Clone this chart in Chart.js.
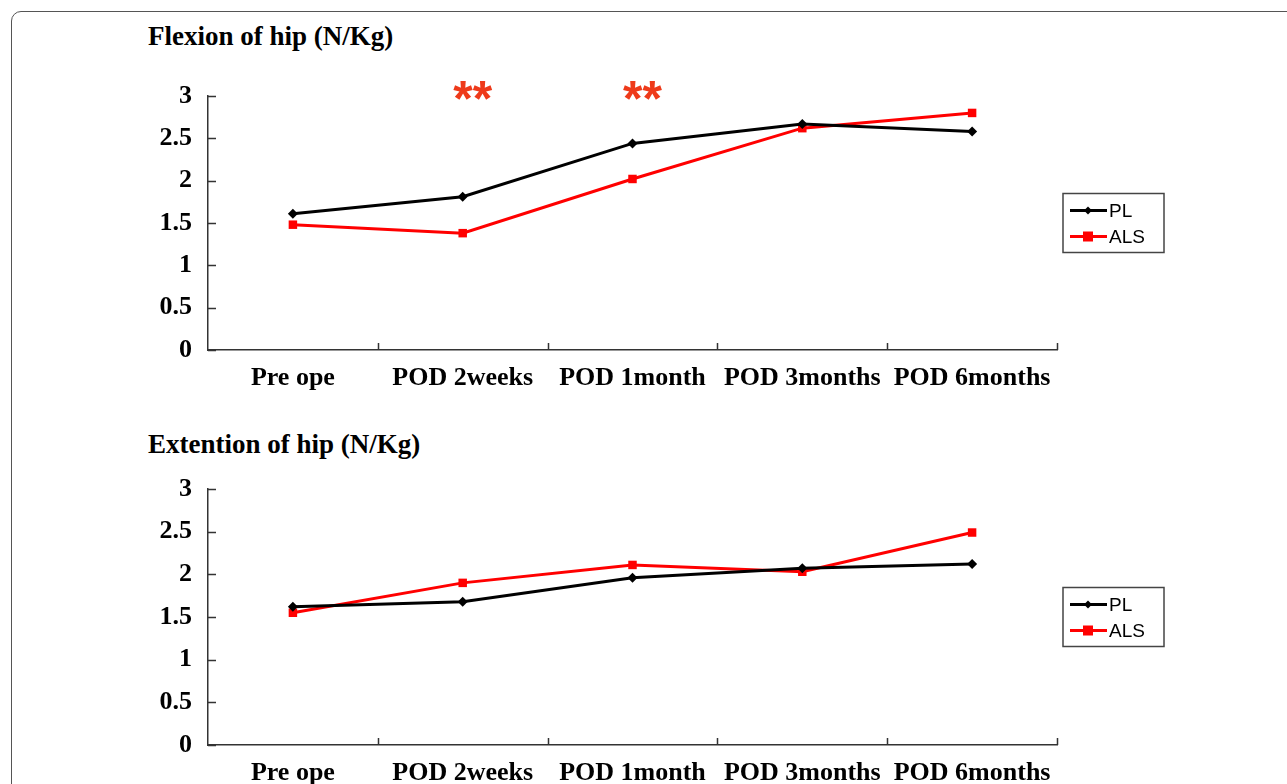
<!DOCTYPE html>
<html>
<head>
<meta charset="utf-8">
<script src="https://cdn.jsdelivr.net/npm/chart.js@4"></script>
<style>
  html, body { margin: 0; padding: 0; background: #fff; overflow: hidden; }
  body { width: 1287px; height: 784px; position: relative; }
  .frame { position: absolute; left: 11px; top: 11px; width: 1400px; height: 900px;
           border: 1.5px solid #555; border-radius: 10px; box-sizing: border-box; }
  .title { position: absolute; left: 148px; font: bold 27px "Liberation Serif", "Times New Roman", serif;
           line-height: 26px; color: #000; white-space: nowrap; }
  canvas { position: absolute; left: 0; }
</style>
</head>
<body>
<div class="frame"></div>
<div class="title" style="top:23px">Flexion of hip (N/Kg)</div>
<div class="title" style="top:431px">Extention of hip (N/Kg)</div>
<canvas id="flexChart" width="1287" height="400" style="top:0"></canvas>
<canvas id="extChart" width="1287" height="420" style="top:400px"></canvas>
<script>
// Hip strength after surgery, PL vs ALS approach

const categories = ['Pre ope', 'POD 2weeks', 'POD 1month', 'POD 3months', 'POD 6months'];
const yTicks = [0, 0.5, 1, 1.5, 2, 2.5, 3];

const flexionPL  = [1.61, 1.81, 2.44, 2.67, 2.58];
const flexionALS = [1.48, 1.38, 2.02, 2.62, 2.80];
const flexionMarks = ['', '**', '**', '', ''];

const extensionPL  = [1.62, 1.68, 1.96, 2.07, 2.12];
const extensionALS = [1.55, 1.90, 2.11, 2.03, 2.49];

const SERIF = '"Liberation Serif", "Times New Roman", serif';
const SANS = '"Liberation Sans", Arial, sans-serif';
const AXIS = '#333';

// inward tick marks (y ticks point right, x ticks point up)
const innerTicks = {
  id: 'innerTicks',
  afterDraw(chart) {
    const { ctx, scales: { x, y } } = chart;
    ctx.save();
    ctx.strokeStyle = AXIS;
    ctx.lineWidth = 1.5;
    ctx.beginPath();
    y.ticks.forEach((t, i) => {
      const py = Math.round(y.getPixelForTick(i)) + 0.5;
      ctx.moveTo(x.left, py);
      ctx.lineTo(x.left + 8, py);
    });
    for (let i = 1; i <= categories.length; i++) {
      const px = Math.round(x.getPixelForValue(i - 0.5)) + 0.5;
      ctx.moveTo(px, y.bottom);
      ctx.lineTo(px, y.bottom - 7);
    }
    ctx.stroke();
    ctx.restore();
  }
};

// boxed legend to the right of the plot, line + marker like the original
const boxLegend = {
  id: 'boxLegend',
  afterDraw(chart) {
    const { ctx, chartArea } = chart;
    const w = 101, h = 59;
    const left = chartArea.right + 6;
    const top = (chartArea.top + chartArea.bottom) / 2 - h / 2;
    ctx.save();
    ctx.fillStyle = '#fff';
    ctx.fillRect(left, top, w, h);
    ctx.strokeStyle = '#444';
    ctx.lineWidth = 1.5;
    ctx.strokeRect(left, top, w, h);
    chart.data.datasets.forEach((ds, i) => {
      const cy = top + 17 + i * 26;
      ctx.strokeStyle = ds.borderColor;
      ctx.lineWidth = 3;
      ctx.beginPath();
      ctx.moveTo(left + 7, cy);
      ctx.lineTo(left + 44, cy);
      ctx.stroke();
      ctx.fillStyle = ds.borderColor;
      const cx = left + 25;
      if (ds.pointStyle === 'rect') {
        ctx.fillRect(cx - 5, cy - 5, 10, 10);
      } else {
        ctx.beginPath();
        ctx.moveTo(cx, cy - 4); ctx.lineTo(cx + 4, cy); ctx.lineTo(cx, cy + 4); ctx.lineTo(cx - 4, cy);
        ctx.closePath();
        ctx.fill();
      }
      ctx.fillStyle = '#000';
      ctx.font = '19px ' + SANS;
      ctx.textBaseline = 'middle';
      ctx.fillText(ds.label, left + 46, cy + 1);
    });
    ctx.restore();
  }
};

// significance asterisks above the categories
const starMarks = {
  id: 'starMarks',
  afterDraw(chart, args, opts) {
    if (!opts.marks) return;
    const { ctx, scales: { x } } = chart;
    ctx.save();
    ctx.fillStyle = '#ee3a1a';
    ctx.font = 'bold 50px ' + SANS;
    ctx.textAlign = 'center';
    ctx.textBaseline = 'alphabetic';
    opts.marks.forEach((m, i) => {
      if (m) ctx.fillText(m, x.getPixelForValue(i) + 10, 116);
    });
    ctx.restore();
  }
};

function makeChart(id, pl, als, pad, xHeight, marks) {
  return new Chart(document.getElementById(id), {
    type: 'line',
    data: {
      labels: categories,
      datasets: [{
        label: 'PL',
        data: pl,
        borderColor: '#000',
        backgroundColor: '#000',
        borderWidth: 3,
        pointStyle: 'rectRot',
        pointRadius: 5,
        pointBorderWidth: 0,
      }, {
        label: 'ALS',
        data: als,
        borderColor: '#ff0000',
        backgroundColor: '#ff0000',
        borderWidth: 3,
        pointStyle: 'rect',
        pointRadius: 6,
        pointBorderWidth: 0,
      }],
    },
    options: {
      responsive: false,
      animation: false,
      layout: { padding: pad },
      plugins: {
        legend: { display: false },
        tooltip: { enabled: false },
        starMarks: { marks: marks },
      },
      scales: {
        x: {
          offset: true,
          grid: { display: true, drawOnChartArea: false, drawTicks: false, offset: true },
          border: { display: true, color: AXIS, width: 1.5 },
          ticks: { color: '#000', padding: 13, maxRotation: 0, autoSkip: false,
                   font: { family: SERIF, size: 26, weight: 'bold' } },
          afterFit: s => { s.height = xHeight; },
        },
        y: {
          min: 0,
          max: 3,
          afterBuildTicks: s => { s.ticks = yTicks.map(v => ({ value: v })); },
          grid: { display: true, drawOnChartArea: false, drawTicks: false },
          border: { display: true, color: AXIS, width: 1.5 },
          ticks: { color: '#000', padding: 16, callback: v => String(v),
                   font: { family: SERIF, size: 26, weight: 'bold' } },
          afterFit: s => { s.width = 60; },
        },
      },
    },
    plugins: [innerTicks, boxLegend, starMarks],
  });
}

makeChart('flexChart', flexionPL, flexionALS, { left: 148, right: 230, top: 96, bottom: 10 }, 40, flexionMarks);
makeChart('extChart', extensionPL, extensionALS, { left: 148, right: 230, top: 89, bottom: 35 }, 40, null);
</script>
</body>
</html>
